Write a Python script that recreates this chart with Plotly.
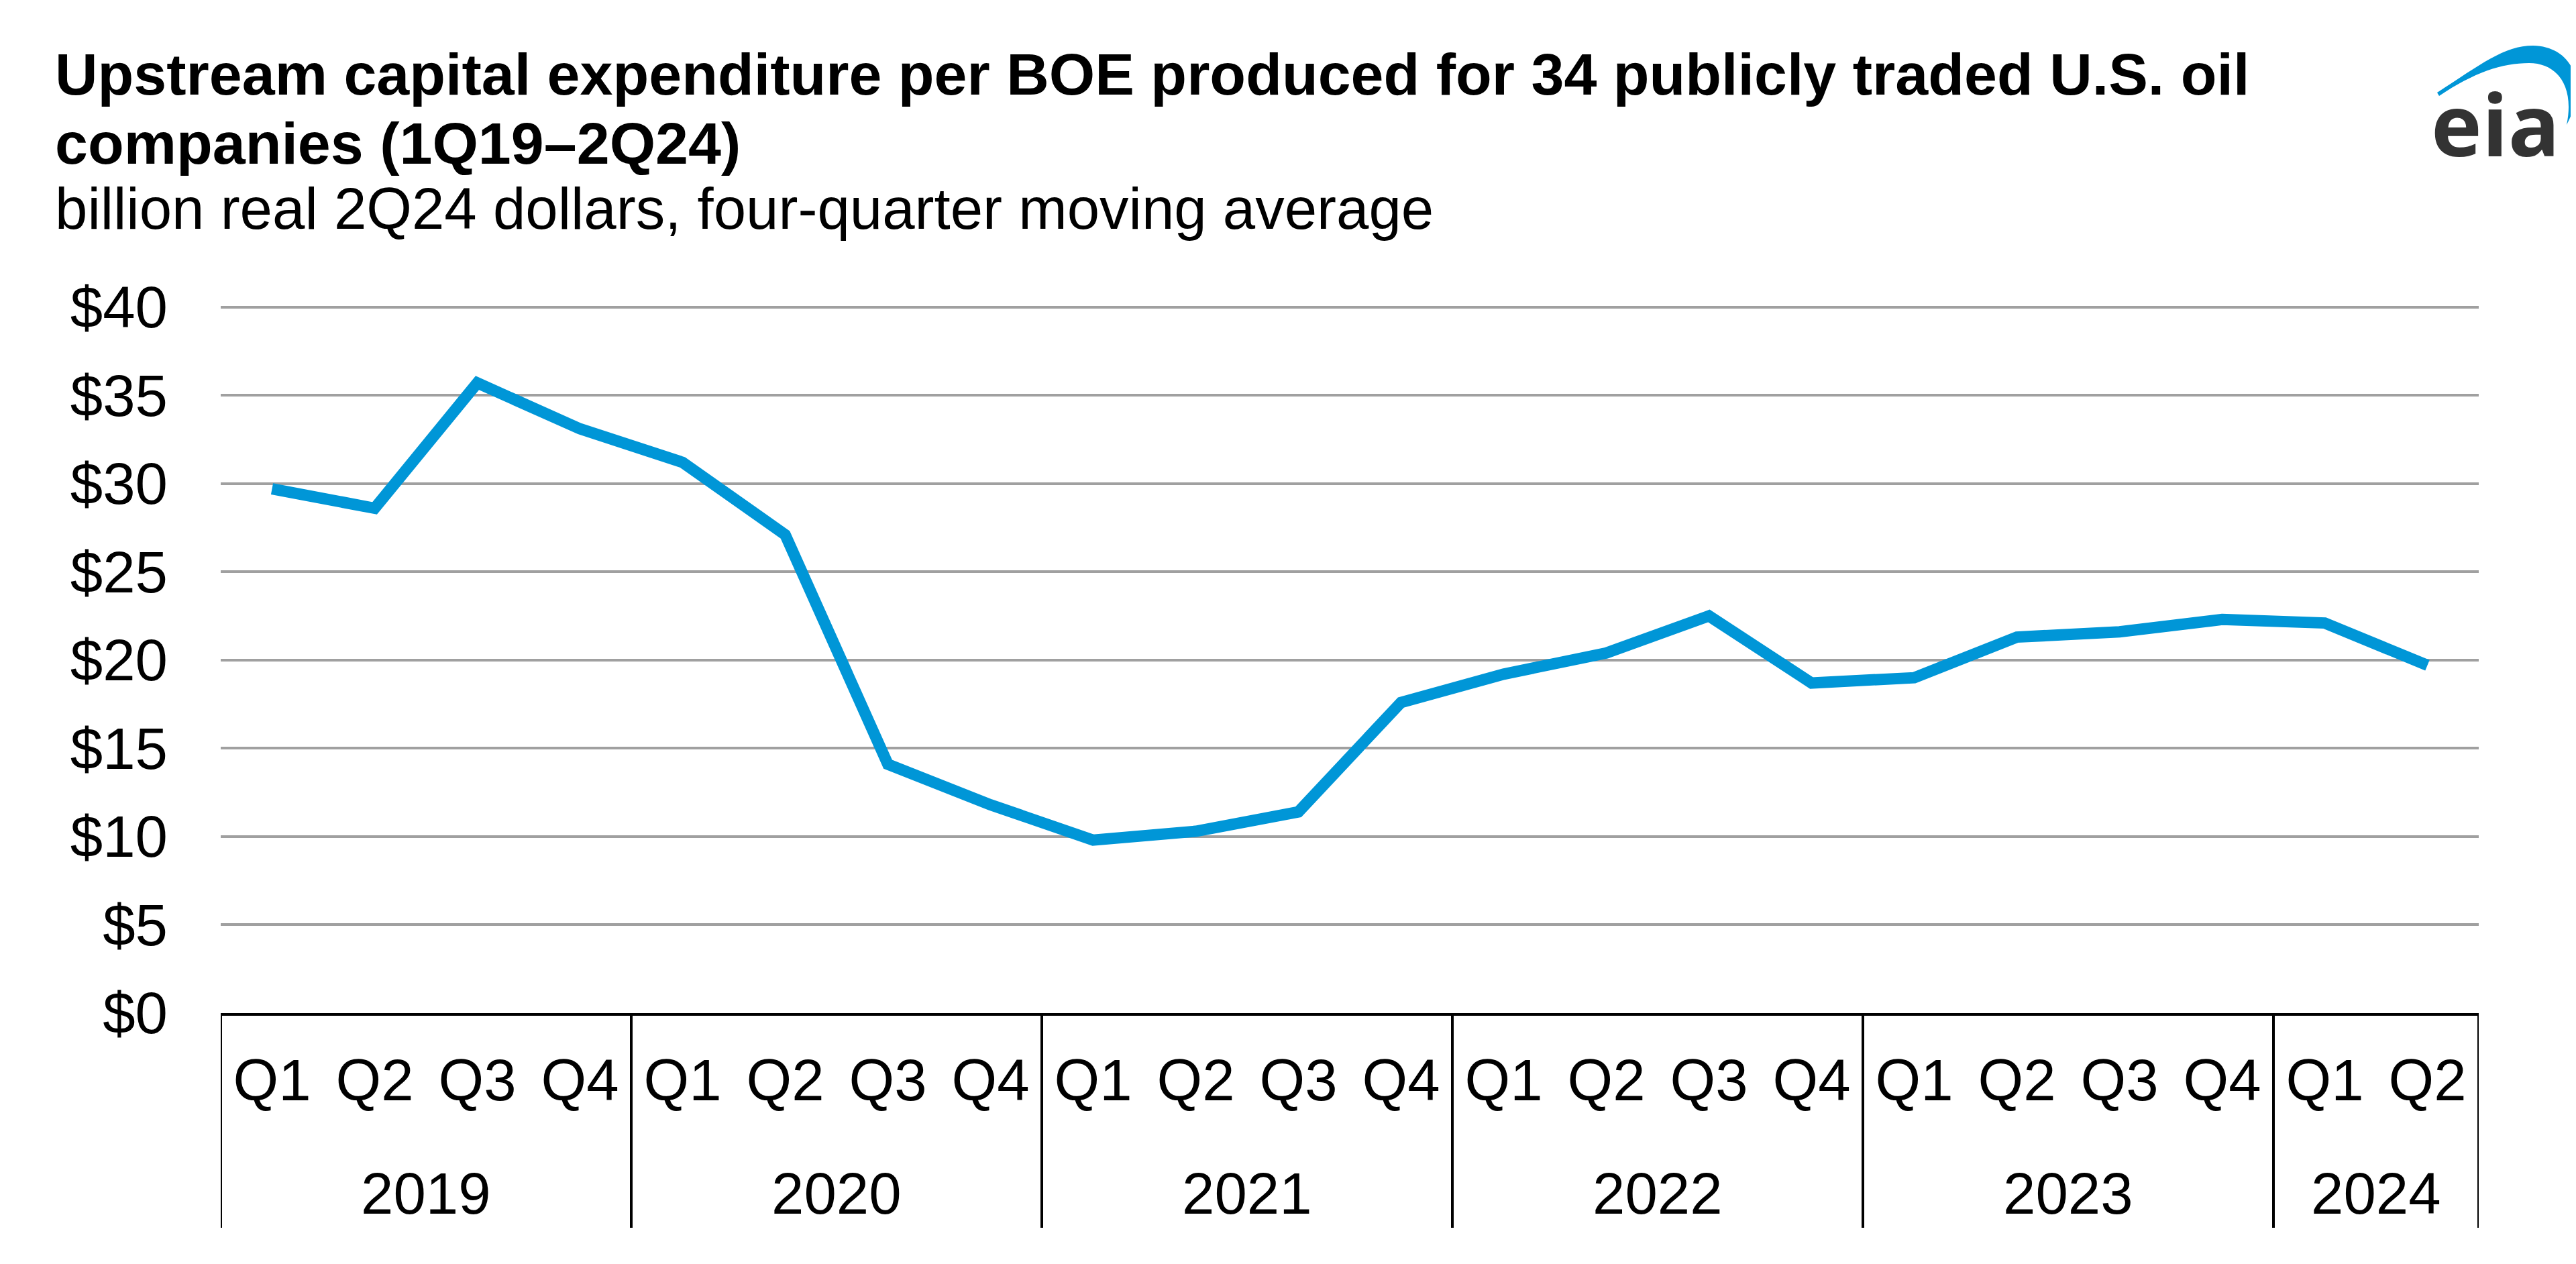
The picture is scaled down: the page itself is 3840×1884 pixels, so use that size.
import plotly.graph_objects as go

# ---- data ----
years = ["2019"] * 4 + ["2020"] * 4 + ["2021"] * 4 + ["2022"] * 4 + ["2023"] * 4 + ["2024"] * 2
quarters = ["Q1", "Q2", "Q3", "Q4"] * 5 + ["Q1", "Q2"]
capex_per_boe = [29.7, 28.6, 35.7, 33.1,
                 31.2, 27.1, 14.1, 11.8,
                 9.8, 10.3, 11.4, 17.6,
                 19.2, 20.4, 22.5, 18.7,
                 19.0, 21.3, 21.6, 22.3,
                 22.1, 19.7]
y_ticks = [0, 5, 10, 15, 20, 25, 30, 35, 40]

title_line1 = "Upstream capital expenditure per BOE produced for 34 publicly traded U.S. oil"
title_line2 = "companies (1Q19–2Q24)"
subtitle = "billion real 2Q24 dollars, four-quarter moving average"

# ---- layout geometry (pixels) ----
W, H = 3840, 1884
L, R, T, B = 321, 153, 447, 382
PW = W - L - R
PH = H - T - B
FONT = "Liberation Sans, Arial, sans-serif"
BLUE = "#0096d7"
YMAX = 40.1


def px(xp):
    return (xp - L) / PW


def py(yp):
    return (H - B - yp) / PH


categories = [y + " " + q for y, q in zip(years, quarters)]

fig = go.Figure()
fig.add_trace(go.Scatter(
    x=categories, y=capex_per_boe, mode="lines",
    line=dict(color=BLUE, width=17), hoverinfo="skip", showlegend=False,
))

fig.update_layout(
    width=W, height=H,
    margin=dict(l=L, r=R, t=T, b=B),
    paper_bgcolor="white", plot_bgcolor="white",
    font=dict(family=FONT, size=87, color="black"),
    showlegend=False,
)
fig.update_xaxes(
    type="category", range=[-0.5, len(categories) - 0.5],
    tickvals=categories, ticktext=quarters,
    showgrid=False, showline=True, linecolor="black", linewidth=4,
    ticks="", ticklabelstandoff=22, tickfont=dict(size=87, color="black"),
)
fig.update_yaxes(
    range=[0, YMAX], tickvals=y_ticks, ticktext=["$" + str(v) for v in y_ticks],
    showgrid=True, gridcolor="#a0a0a0", gridwidth=4,
    zeroline=False, showline=False, ticks="", ticklabelstandoff=78,
    tickfont=dict(size=87, color="black"),
)

# year group dividers and labels (computed from the category data)
groups = []
for i, yr in enumerate(years):
    if not groups or groups[-1][0] != yr:
        groups.append([yr, i, i])
    else:
        groups[-1][2] = i
bounds = [g[1] - 0.5 for g in groups] + [groups[-1][2] + 0.5]
for b in bounds:
    fig.add_shape(type="line", xref="x", yref="paper", x0=b, x1=b,
                  y0=0, y1=py(1822), line=dict(color="black", width=4))
for yr, i0, i1 in groups:
    fig.add_annotation(text=yr, xref="x", yref="paper", x=(i0 + i1) / 2, y=py(1770),
                       xanchor="center", yanchor="middle", showarrow=False,
                       font=dict(family=FONT, size=87, color="black"))

# titles
for txt, yc, bold in [(title_line1, 103, True), (title_line2, 205, True), (subtitle, 303, False)]:
    fig.add_annotation(
        text=("<b>" + txt + "</b>") if bold else txt,
        xref="paper", yref="paper", x=px(72), y=py(yc),
        xanchor="left", yanchor="middle", showarrow=False,
        font=dict(family=FONT, size=88 if bold else 87, color="black"),
    )

# eia logo
fig.add_annotation(
    text="<b>eia</b>", xref="paper", yref="paper", x=px(3712), y=py(176),
    xanchor="center", yanchor="middle", showarrow=False,
    font=dict(family="Open Sans, Liberation Sans, sans-serif", size=128, color="#333333"),
)
arc = [("M", [(3625, 130)]),
       ("C", [(3690, 88), (3725, 60), (3768, 60)]),
       ("C", [(3825, 61), (3852, 115), (3818, 178)]),
       ("C", [(3830, 122), (3805, 86), (3762, 86)]),
       ("C", [(3722, 86), (3680, 100), (3628, 135)])]
path = ""
for cmd, pts in arc:
    path += cmd + " " + " ".join(f"{px(a):.5f},{py(b):.5f}" for a, b in pts) + " "
path += "Z"
fig.add_shape(type="path", path=path, xref="paper", yref="paper",
              fillcolor=BLUE, line=dict(width=0), layer="above")

fig.write_html("out.html")
